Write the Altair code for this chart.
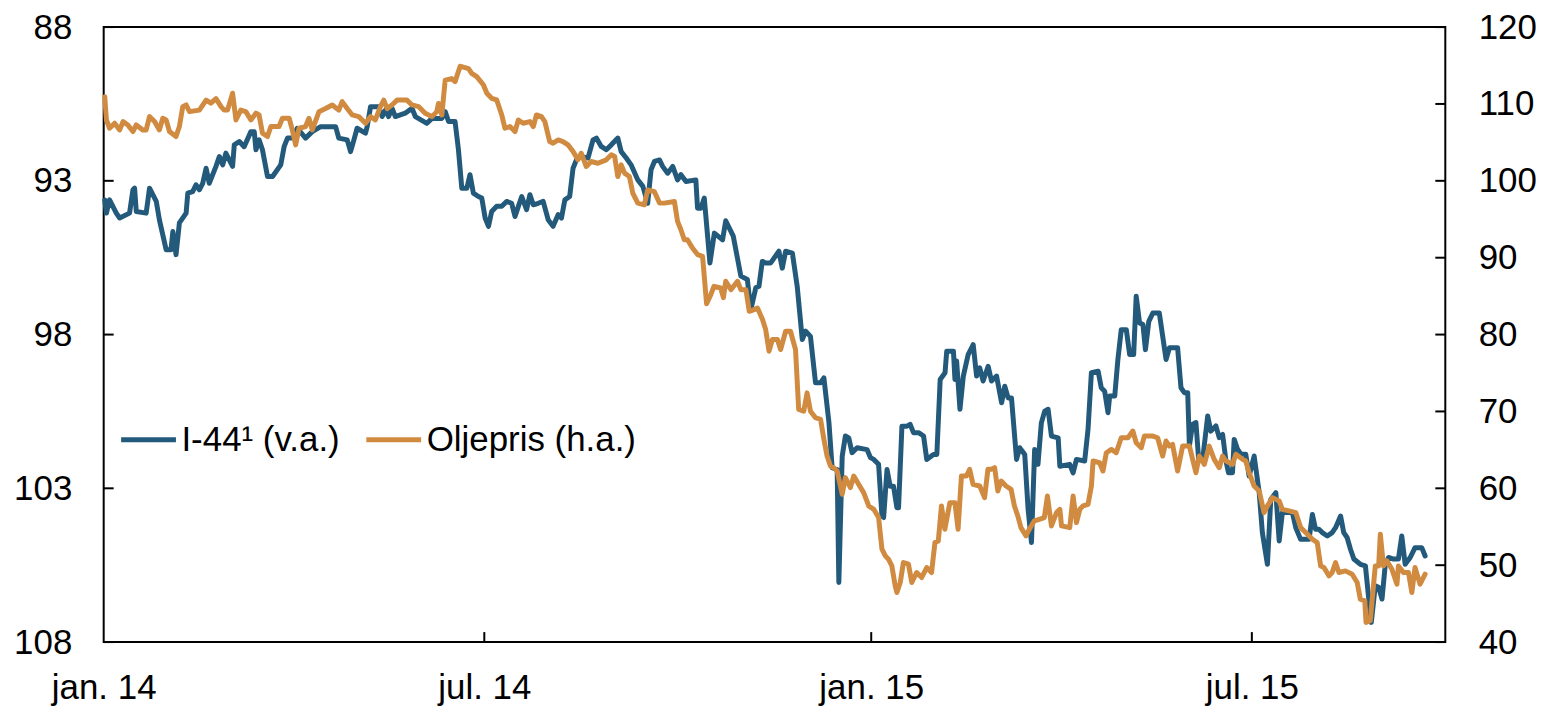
import altair as alt
import pandas as pd

# ---- data (days since 2014-01-01, values) ----
i44_days = [0.5, 1.3, 2.8, 6, 7.6, 12.3, 13.9, 14.7, 15.5, 20.2, 21.8, 25, 26.5, 29.7, 32, 32.9, 34.4, 36, 39.2, 40,
            42.3, 43.9, 45.5, 47.1, 48.7, 50.2, 53.4, 55, 56.6, 58.1, 61.3, 62.1, 64.5, 66.8, 70, 71.6, 72.4, 73.9, 75.5, 77.9,
            80.3, 84.2, 85.8, 87.4, 89.7, 92.1, 96, 99.2, 103.2, 110.3, 111.8, 115.8, 117.4, 119, 120.5, 124.5, 125.3, 126.9, 130.8, 132.4,
            134, 135.5, 137.1, 138.7, 143.4, 146.6, 148.2, 153.7, 156.1, 160.8, 162.4, 164, 167.1, 168.7, 170.3, 172.7, 174.2, 175.8, 178.2, 179.8,
            181.4, 183, 184.5, 186.9, 189.3, 191.6, 194, 195.6, 197.2, 198.8, 201.1, 202.7, 204.3, 206.6, 209, 211.4, 213.7, 216.1, 217.7, 219.3,
            221.6, 223.2, 224.8, 226.4, 230.3, 232.7, 234.3, 236.6, 239, 241.4, 244.5, 246.1, 248.5, 250.8, 254, 256.4, 258.7, 260.3, 261.9, 264.3,
            265.8, 268.2, 270.6, 272.9, 274.5, 276.9, 281.6, 282.4, 284, 285.6, 288.3, 290.4, 294.3, 295.8, 299.4, 303, 306.1, 307.7, 310.1, 311.6,
            313.2, 314.8, 317.2, 321.1, 322.7, 324.3, 327.5, 329.8, 332.2, 333.8, 336.1, 338.5, 340.9, 342.5, 344.9, 346.4, 348.8, 349.6, 351.2, 352.7,
            354.3, 355.9, 358.3, 363, 364.6, 366.2, 368.5, 370.1, 370.9, 372.5, 374, 375.6, 377.2, 378, 379.6, 382, 383.5, 385.1, 387.5, 389.9,
            391.4, 394.6, 396.2, 397.8, 400.1, 400.9, 404.1, 404.8, 405.6, 407.2, 408.8, 411.1, 413.5, 415.1, 416.6, 418.2, 420.6, 422.2, 424.6, 427,
            428.5, 430.1, 431.7, 434.1, 435.6, 438, 439.6, 441.2, 442.7, 444.3, 445.9, 447.5, 449.1, 450.7, 453.9, 454.7, 459.4, 461, 462.6, 466.5,
            468.1, 469.7, 472.9, 474.4, 476, 477.6, 478.4, 480.8, 482.3, 483.9, 486.3, 487.9, 489.8, 491, 492.6, 494.2, 495.4, 497, 498.9, 502,
            505.2, 506.8, 510.7, 512.3, 513.9, 515.5, 516.3, 517.8, 519.4, 520.7, 522.6, 525, 526.5, 528.9, 530.5, 532.1, 533.7, 534.9, 536.8, 537.6,
            539.2, 540.8, 543.1, 544.7, 547.1, 549.5, 551, 553.4, 555, 557.4, 559, 560.5, 565.3, 566.9, 569.2, 573.2, 574.8, 576.3, 577.9, 579.5,
            581.9, 584.2, 585.8, 588.2, 589.7, 591.3, 592.9, 594.5, 597.6, 600, 601.6, 602.8, 604.7, 606.3, 607.9, 609.4, 611, 613.4, 615.7, 617.3,
            618.9, 621.3, 623.6, 626.8, 628.4]
i44_values = [93.62, 94.05, 93.62, 94.05, 94.21, 94.05, 93.29, 93.24, 94.0, 94.05, 93.24, 93.67, 94.27, 95.24, 95.24, 94.65, 95.4, 94.37, 94.05, 93.4,
              93.35, 93.13, 93.29, 93.08, 92.59, 93.08, 92.53, 92.21, 92.48, 92.1, 92.53, 91.83, 91.72, 91.89, 91.4, 91.4, 91.99, 91.67, 91.99, 92.86,
              92.86, 92.48, 91.89, 91.61, 91.61, 91.29, 91.61, 91.4, 91.24, 91.24, 91.61, 91.67, 92.05, 91.67, 91.29, 91.45, 91.24, 90.59, 90.59, 90.91,
              90.70, 90.91, 90.64, 90.91, 90.80, 90.64, 90.91, 91.13, 90.97, 90.97, 90.75, 91.07, 91.07, 91.99, 93.24, 93.24, 92.80, 93.40, 93.51, 93.56,
              94.21, 94.48, 94.0, 93.83, 93.83, 93.67, 93.73, 94.16, 93.83, 93.51, 93.94, 93.45, 93.78, 93.73, 93.67, 94.27, 94.48, 94.10, 94.21, 93.62,
              93.51, 92.59, 92.32, 92.21, 92.26, 91.67, 91.61, 91.88, 91.99, 91.83, 91.61, 92.05, 92.26, 92.48, 92.97, 93.18, 93.73, 92.64, 92.37, 92.32,
              92.53, 92.75, 92.53, 92.97, 92.80, 93.02, 92.97, 93.89, 93.89, 93.56, 95.67, 94.70, 94.92, 94.30, 94.80, 96.10, 96.21, 97.20, 96.48, 96.43,
              95.62, 95.67, 95.67, 95.29, 95.84, 95.29, 95.35, 96.43, 98.16, 97.89, 98.06, 99.57, 99.57, 99.41, 100.87, 102.33, 102.39, 106.06, 101.95, 101.30,
              101.36, 101.84, 101.68, 101.74, 102.0, 102.06, 102.22, 103.9, 103.95, 102.39, 102.93, 102.93, 103.63, 103.63, 100.98, 100.98, 100.92, 101.19, 101.19, 101.30,
              102.06, 101.9, 101.9, 99.46, 99.24, 98.54, 98.54, 99.46, 98.86, 100.43, 99.35, 98.65, 98.33, 99.35, 99.08, 99.51, 99.03, 99.51, 99.35, 100.22,
              99.68, 100.06, 100.06, 102.06, 101.68, 101.9, 103.68, 104.76, 101.74, 102.22, 100.87, 100.49, 100.43, 101.3, 101.36, 102.28, 102.22, 102.5, 102.06, 102.11,
              101.08, 99.24, 99.19, 99.73, 99.84, 100.54, 100.0, 100.0, 98.81, 97.84, 97.84, 98.65, 98.65, 96.75, 97.62, 97.67, 98.49, 97.57, 97.30, 97.30,
              98.81, 98.43, 98.43, 99.73, 99.89, 99.89, 101.62, 100.92, 100.86, 102.06, 102.06, 100.65, 101.14, 100.97, 101.35, 101.25, 102.11, 102.49, 102.49, 101.41,
              101.73, 101.89, 101.89, 102.6, 101.95, 103.14, 104.44, 105.47, 103.36, 103.14, 104.71, 103.79, 103.79, 104.28, 104.66, 104.66, 103.85, 104.33, 104.33, 104.44,
              104.55, 104.44, 104.28, 103.9, 104.44, 104.6, 104.98, 105.3, 105.47, 105.52, 106.6, 107.36, 106.17, 106.22, 106.6, 105.52, 105.25, 105.3, 105.3, 104.55,
              105.47, 105.25, 104.93, 104.93, 105.2]

olje_days = [0.5, 1.3, 2.8, 5.2, 7.6, 9.2, 11.5, 13.9, 15.5, 18.6, 20.2, 21.8, 24.2, 26.5, 28.1, 29.7, 31.3, 34.4, 36, 37.6,
             39.2, 40.8, 45.5, 48.7, 51, 53.4, 55.8, 57.3, 58.9, 61.3, 62.9, 65.2, 67.6, 70, 72.4, 73.9, 75.5, 77.9, 79.5, 83.4,
             85, 88.2, 89.7, 91.3, 92.9, 96, 97.6, 99.2, 102.4, 105.5, 108.7, 111.8, 113.4, 115.8, 118.2, 121.3, 124.5, 126.9, 129.2, 131.6,
             133.2, 134.8, 137.1, 139.5, 141.9, 144.2, 146.6, 149.8, 152.9, 156.1, 158.4, 159.2, 160.8, 162.4, 165.5, 167.1, 169.5, 171, 173.5, 175,
             177.4, 180.6, 182.2, 184.5, 186.9, 189.3, 190.8, 193.2, 195.6, 197.2, 199.5, 202.7, 204.3, 205.8, 208.2, 209.8, 212.1, 213.7, 216.1, 218.4,
             220.8, 223.2, 225.5, 227.1, 229.5, 231.8, 235, 239, 241.4, 243, 244.5, 246.1, 247.7, 250, 251.6, 254, 257.1, 258.7, 261.9, 264.3,
             266.6, 271.4, 272.9, 274.5, 276.1, 277.6, 280, 282.5, 284.8, 286.7, 288.7, 290.2, 293.4, 294.7, 295.8, 298.3, 301.4, 303, 305.4, 307,
             309.3, 310.9, 313.3, 314.8, 316.4, 318, 320.4, 321.9, 324.3, 326.6, 329, 330.5, 332.9, 334.5, 336.1, 338.5, 340.9, 342.5, 344, 345.6,
             347.2, 348.8, 351.2, 352.7, 355.1, 356.7, 359, 361.4, 363.8, 366.2, 368.5, 370.1, 371.7, 373.2, 374.8, 376.4, 377.2, 378.8, 380.3, 382.7,
             384.3, 386.6, 389, 391.4, 393.7, 395.3, 396.9, 398.4, 400, 402.4, 404.8, 406.3, 407.9, 410.3, 411.8, 413.4, 416.6, 418.9, 420.5, 422.1,
             423.7, 425.2, 426.8, 429.1, 431.5, 433.1, 434.7, 436.2, 438.6, 440.2, 442.5, 444.9, 447.3, 448.8, 450.7, 453.1, 454.7, 455.5, 459.4, 461,
             462.6, 464.2, 465.7, 468.1, 469.7, 470.5, 473.6, 475.2, 476.8, 479.2, 481.5, 483.9, 487.1, 489.4, 491, 493.4, 494.9, 498.9, 501.2, 503.6,
             505.2, 506.8, 508.3, 510.7, 513.1, 516.3, 519.4, 521, 523.4, 525.7, 528.1, 530.5, 532.1, 533.7, 536.8, 538.4, 541.6, 543.1, 544.7, 547.1,
             549.5, 551.8, 553.4, 555.8, 559, 560.5, 563.7, 566.9, 569.2, 571.6, 574.8, 577.1, 578.7, 580.3, 582.7, 584.2, 585.8, 587.4, 590.5, 593.7,
             596.1, 597.6, 599.7, 600.3, 602.3, 604.7, 606.3, 607.1, 608.6, 610.2, 612.6, 615, 615.7, 618.1, 620.5, 622.1, 623.6, 626, 628.4]
olje_values = [110.95, 107.92, 106.84, 107.49, 106.62, 107.71, 107.27, 106.41, 107.27, 106.62, 106.62, 108.35, 107.71, 106.62, 108.14, 107.92, 106.41, 105.76, 107.06, 109.65,
               109.87, 109.0, 109.2, 110.5, 110.1, 110.7, 109.65, 109.2, 109.2, 111.4, 107.92, 109.2, 109.0, 107.92, 108.8, 108.57, 106.2, 105.76, 107.06, 107.06,
               108.14, 108.14, 106.62, 104.68, 106.84, 107.06, 108.14, 106.62, 109.0, 109.4, 109.87, 109.2, 110.3, 109.4, 108.57, 108.35, 107.49, 108.35, 107.92, 109.65,
               110.5, 109.4, 109.87, 110.5, 110.5, 110.5, 109.87, 109.65, 108.78, 108.35, 109.0, 110.06, 108.57, 113.1, 113.3, 112.9, 114.9, 114.8, 114.6, 113.98,
               113.55, 112.47, 111.39, 110.74, 110.52, 108.57, 106.84, 107.06, 106.41, 107.92, 107.49, 107.71, 107.06, 108.57, 108.35, 107.71, 105.11, 104.89, 105.32, 105.11,
               104.68, 103.81, 102.73, 103.59, 101.86, 102.51, 102.29, 102.73, 103.38, 103.16, 100.56, 102.08, 101.0, 100.56, 98.4, 97.1, 96.88, 98.81, 98.59, 97.1,
               97.1, 97.32, 94.72, 93.64, 92.34, 92.34, 91.26, 90.39, 90.17, 84.0, 85.19, 86.28, 86.06, 84.8, 86.93, 85.84, 86.93, 85.84, 85.84, 83.03,
               83.25, 83.46, 81.95, 80.65, 77.84, 79.35, 79.35, 78.05, 80.43, 80.43, 78.05, 70.26, 70.04, 72.42, 70.04, 69.18, 68.96, 66.36, 64.2, 62.9,
               62.68, 62.25, 59.22, 61.39, 60.09, 61.6, 60.52, 59.44, 57.71, 57.27, 56.19, 52.08, 51.21, 50.78, 49.91, 47.32, 46.45, 47.75, 50.35, 50.13,
               47.75, 49.05, 48.4, 49.7, 49.05, 52.94, 53.16, 57.71, 54.68, 58.14, 58.14, 54.68, 61.6, 61.6, 62.47, 60.52, 60.3, 58.79, 62.47, 62.47,
               62.68, 59.65, 60.95, 60.3, 59.87, 57.71, 56.41, 54.89, 53.81, 54.68, 55.76, 55.97, 56.19, 59.0, 55.11, 56.84, 57.27, 55.11, 54.89, 59.0,
               55.54, 57.27, 57.71, 57.92, 60.3, 63.55, 63.33, 62.25, 64.63, 65.06, 64.63, 66.58, 66.58, 67.45, 65.93, 65.28, 66.8, 66.8, 66.58, 64.2,
               66.15, 65.5, 65.71, 62.25, 65.5, 65.5, 62.03, 64.2, 63.12, 65.5, 63.77, 62.68, 64.2, 63.55, 63.12, 64.42, 63.77, 63.55, 62.03, 60.3,
               59.65, 56.84, 57.71, 58.79, 58.35, 57.27, 57.06, 56.84, 54.89, 54.24, 53.38, 52.94, 49.91, 49.7, 48.61, 49.05, 50.35, 49.05, 49.26, 48.83,
               47.75, 45.58, 45.37, 42.55, 42.77, 49.91, 49.91, 54.03, 49.91, 50.56, 49.48, 47.53, 49.91, 49.05, 49.05, 46.45, 49.7, 47.53, 48.83]

series_names = ["I-44\u00b9 (v.a.)", "Oljepris (h.a.)"]
series_colors = ["#235a7b", "#d08b41"]

left_ticks = [88, 93, 98, 103, 108]
right_ticks = [40, 50, 60, 70, 80, 90, 100, 110, 120]
x_tick_dates = ["2014-01-01", "2014-07-01", "2015-01-01", "2015-07-01"]

base = pd.Timestamp("2014-01-01")
df_i44 = pd.DataFrame({
    "date": base + pd.to_timedelta(i44_days, unit="D"),
    "value": i44_values,
    "series": series_names[0],
})
df_olje = pd.DataFrame({
    "date": base + pd.to_timedelta(olje_days, unit="D"),
    "value": olje_values,
    "series": series_names[1],
})
df_lt = pd.DataFrame({"v": left_ticks})
df_rt = pd.DataFrame({"v": right_ticks})
df_xt = pd.DataFrame({"date": pd.to_datetime(x_tick_dates[1:])})

W, H = 1346, 617
FONT = "Liberation Sans"
FS = 35
LW = 5

x_scale = alt.Scale(domain=[alt.DateTime(year=2014, month=1, date=1),
                            alt.DateTime(year=2015, month=10, date=1)])
x_axis = alt.Axis(
    title=None,
    values=[alt.DateTime(year=int(d[:4]), month=int(d[5:7]), date=1) for d in x_tick_dates],
    labelExpr="(month(datum.value) == 0 ? 'jan. ' : 'jul. ') + timeFormat(datum.value, '%y')",
    ticks=False, domain=False, grid=False, labelFlush=False,
    labelPadding=29, labelAlign="center",
)
left_scale = alt.Scale(domain=[88, 108], reverse=True)
right_scale = alt.Scale(domain=[40, 120])

color = alt.Color(
    "series:N",
    scale=alt.Scale(domain=series_names, range=series_colors),
    legend=alt.Legend(
        title=None, orient="none", legendX=15, legendY=384, direction="horizontal",
        symbolType="stroke", symbolSize=3025, symbolStrokeWidth=LW,
        labelFont=FONT, labelFontSize=FS, labelColor="black", labelLimit=400,
        labelOffset=3, columnPadding=16, padding=0,
    ),
)

line_i44 = alt.Chart(df_i44).mark_line(strokeWidth=LW, strokeJoin="round", strokeCap="round").encode(
    x=alt.X("date:T", scale=x_scale, axis=x_axis),
    y=alt.Y("value:Q", scale=left_scale,
            axis=alt.Axis(title=None, orient="left", values=left_ticks, ticks=False, domain=False,
                          grid=False, labelPadding=32)),
    color=color,
)
line_olje = alt.Chart(df_olje).mark_line(strokeWidth=LW, strokeJoin="round", strokeCap="round").encode(
    x=alt.X("date:T", scale=x_scale, axis=x_axis),
    y=alt.Y("value:Q", scale=right_scale,
            axis=alt.Axis(title=None, orient="right", values=right_ticks, ticks=False, domain=False,
                          grid=False, labelPadding=33)),
    color=color,
)

lt_rule = alt.Chart(df_lt).mark_rule(color="black", strokeWidth=2).encode(
    y=alt.Y("v:Q", scale=left_scale, axis=None),
    x=alt.value(0), x2=alt.value(10),
)
rt_rule = alt.Chart(df_rt).mark_rule(color="black", strokeWidth=2).encode(
    y=alt.Y("v:Q", scale=right_scale, axis=None),
    x=alt.value(W - 10), x2=alt.value(W),
)
xt_rule = alt.Chart(df_xt).mark_rule(color="black", strokeWidth=2).encode(
    x=alt.X("date:T", scale=x_scale, axis=x_axis),
    y=alt.value(H - 10), y2=alt.value(H),
)

chart = alt.layer(line_i44, line_olje, lt_rule, rt_rule, xt_rule).resolve_scale(
    y="independent"
).properties(
    width=W, height=H,
    autosize=alt.AutoSizeParams(type="none"),
    padding={"left": 96, "top": 18, "right": 95, "bottom": 63},
).configure_view(
    stroke="black", strokeWidth=2
).configure_axis(
    labelFont=FONT, labelFontSize=FS, labelColor="black"
)

chart.save("out.html", embed_options={"renderer": "svg", "actions": False})
